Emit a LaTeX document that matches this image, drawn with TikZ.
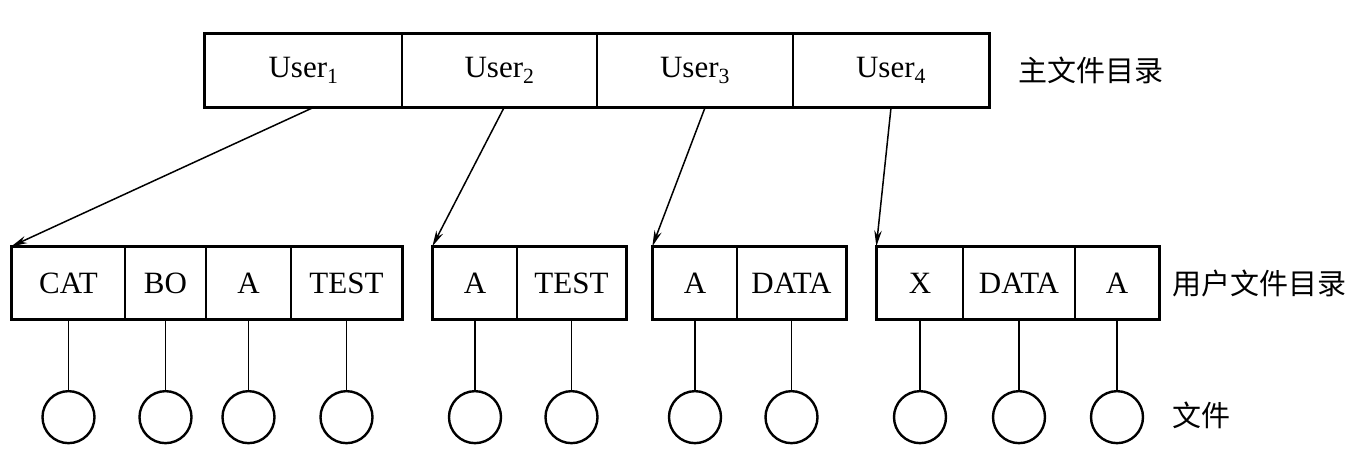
\documentclass[tikz,border=0pt]{standalone}
\usepackage{fontspec}
\setmainfont{Liberation Serif}
\newfontfamily\cjk{Noto Sans CJK SC}
\usetikzlibrary{arrows.meta,calc}
\begin{document}
\begin{tikzpicture}[x=1pt,y=-1pt,
  cell/.style={draw,line width=1.3pt,inner sep=0pt,minimum height=72pt,font=\fontsize{31}{36}\selectfont},
  outer/.style={draw,line width=2.6pt},
  filenode/.style={draw,circle,line width=2.4pt,minimum size=52pt,inner sep=0pt},
  stem/.style={line width=1.1pt},
  ptr/.style={line width=1.5pt,-{Stealth[length=16pt,width=7.5pt]}},
  lbl/.style={anchor=west,inner sep=0pt,font=\cjk\fontsize{29}{34}\selectfont}]
\useasboundingbox (0,0) rectangle (1368,450);
% master directory
\node[cell,minimum width=197pt,minimum height=73pt] (u1) at (303.5,70.5) {User\textsubscript{1}};
\node[cell,minimum width=195pt,minimum height=73pt] (u2) at (499.5,70.5) {User\textsubscript{2}};
\node[cell,minimum width=196pt,minimum height=73pt] (u3) at (695,70.5) {User\textsubscript{3}};
\node[cell,minimum width=196pt,minimum height=73pt] (u4) at (891,70.5) {User\textsubscript{4}};
\draw[outer] (u1.north west) rectangle (u4.south east);
% user directories
\node[cell,minimum width=113pt] (a1) at (68.5,283) {CAT};
\node[cell,minimum width=81pt] (a2) at (165.5,283) {BO};
\node[cell,minimum width=85pt] (a3) at (248.5,283) {A};
\node[cell,minimum width=111pt] (a4) at (346.5,283) {TEST};
\draw[outer] (a1.north west) rectangle (a4.south east);
\node[cell,minimum width=84pt] (b1) at (475,283) {A};
\node[cell,minimum width=109pt] (b2) at (571.5,283) {TEST};
\draw[outer] (b1.north west) rectangle (b2.south east);
\node[cell,minimum width=84pt] (c1) at (695,283) {A};
\node[cell,minimum width=109pt] (c2) at (791.5,283) {DATA};
\draw[outer] (c1.north west) rectangle (c2.south east);
\node[cell,minimum width=86pt] (d1) at (920,283) {X};
\node[cell,minimum width=112pt] (d2) at (1019,283) {DATA};
\node[cell,minimum width=84pt] (d3) at (1117,283) {A};
\draw[outer] (d1.north west) rectangle (d3.south east);
% files
\foreach \c in {a1,a2,a3,a4,b1,b2,c1,c2,d1,d2,d3}{
  \path (\c.south) ++(0,97.5) node[filenode] (f\c) {};
  \draw[stem] (\c.south) -- (f\c.north);
}
% pointers
\draw[ptr] ($(u1.south)+(9.5,0)$) -- (a1.north west);
\draw[ptr] ($(u2.south)+(4.5,0)$) -- (b1.north west);
\draw[ptr] ($(u3.south)+(10,0)$) -- (c1.north west);
\draw[ptr] (u4.south) -- (d1.north west);
% labels
\node[lbl] (l1) at (1018,70.5) {主文件目录};
\node[lbl] (l2) at (1172,283) {用户文件目录};
\node[lbl] (l3) at (1172,415) {文件};
\end{tikzpicture}
\end{document}
